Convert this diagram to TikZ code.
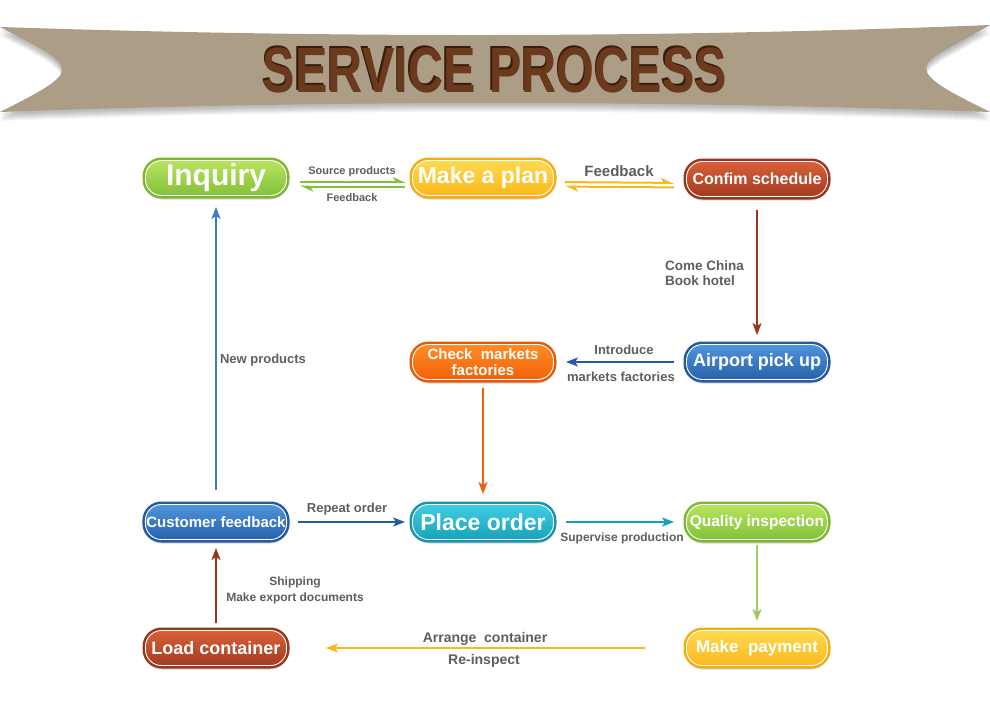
\documentclass[tikz,border=0pt]{standalone}
\usepackage{fontspec}
\setmainfont{Liberation Sans}
\usetikzlibrary{arrows.meta, shadows}

\definecolor{ribbon}{HTML}{AB9D86}
\definecolor{titlebrown}{HTML}{6B3A1C}
\definecolor{titledark}{HTML}{3A1C0A}
\definecolor{labelgray}{HTML}{5E5E5E}
\definecolor{greentop}{HTML}{B8E35E}
\definecolor{greenbot}{HTML}{84C13A}
\definecolor{greenedge}{HTML}{7DB733}
\definecolor{yellowtop}{HTML}{FFD94F}
\definecolor{yellowbot}{HTML}{FBB81C}
\definecolor{yellowedge}{HTML}{F2AE16}
\definecolor{redtop}{HTML}{D9603A}
\definecolor{redbot}{HTML}{A33B1F}
\definecolor{rededge}{HTML}{9A361C}
\definecolor{bluetop}{HTML}{4F94DB}
\definecolor{bluebot}{HTML}{2762AB}
\definecolor{blueedge}{HTML}{2559A0}
\definecolor{orangetop}{HTML}{FF8C22}
\definecolor{orangebot}{HTML}{F0620A}
\definecolor{orangeedge}{HTML}{E35C0A}
\definecolor{tealtop}{HTML}{40CDE2}
\definecolor{tealbot}{HTML}{17A2BA}
\definecolor{tealedge}{HTML}{1695AB}

\tikzset{
  proc/.style={rounded corners=16pt, minimum width=141pt, minimum height=35pt,
    inner sep=1pt, draw=white, line width=0.9pt, text=white, align=center,
    drop shadow={shadow xshift=0pt, shadow yshift=-4pt, opacity=0.3}},
  procgreen/.style={proc, top color=greentop, bottom color=greenbot, preaction={draw=greenedge, line width=6pt}},
  procyellow/.style={proc, top color=yellowtop, bottom color=yellowbot, preaction={draw=yellowedge, line width=6pt}},
  procred/.style={proc, top color=redtop, bottom color=redbot, preaction={draw=rededge, line width=6pt}},
  procblue/.style={proc, top color=bluetop, bottom color=bluebot, preaction={draw=blueedge, line width=6pt}},
  procorange/.style={proc, top color=orangetop, bottom color=orangebot, preaction={draw=orangeedge, line width=6pt}},
  procteal/.style={proc, top color=tealtop, bottom color=tealbot, preaction={draw=tealedge, line width=6pt}},
  lbl/.style={text=labelgray, inner sep=0pt, align=center},
  flow/.style={line width=2.2pt, -{Stealth[length=12pt, width=9pt, inset=3pt]}},
  halfflow/.style={line width=2pt, -{Stealth[harpoon, length=11pt, width=10pt, inset=3pt]}}
}

\begin{document}
\begin{tikzpicture}[x=1pt, y=-1pt]
  \fill[white] (0,0) rectangle (990,712);
  \useasboundingbox (0,0) rectangle (990,712);

  % title ribbon
  \foreach \dy in {2,3,...,9} {
    \fill[black, opacity=0.035, yshift=-\dy pt] (0,27) .. controls (330,38) and (660,38) .. (990,25)
      .. controls (950,48) and (926,58) .. (926,68) .. controls (926,80) and (950,92) .. (990,112)
      .. controls (660,100) and (330,100) .. (0,112)
      .. controls (40,92) and (62,80) .. (62,70) .. controls (62,58) and (40,48) .. (0,27) -- cycle;
  }
  \fill[ribbon] (0,27) .. controls (330,38) and (660,38) .. (990,25)
    .. controls (950,48) and (926,58) .. (926,68) .. controls (926,80) and (950,92) .. (990,112)
    .. controls (660,100) and (330,100) .. (0,112)
    .. controls (40,92) and (62,80) .. (62,70) .. controls (62,58) and (40,48) .. (0,27) -- cycle;
  \node[inner sep=0pt, text=titledark, font=\bfseries\fontsize{64}{64}\selectfont] (titleshade) at (493.5,68.5) {\scalebox{0.76}[1]{SERVICE PROCESS}};
  \node[inner sep=0pt, text=titlebrown, font=\bfseries\fontsize{64}{64}\selectfont] (title) at (495,70) {\scalebox{0.76}[1]{SERVICE PROCESS}};

  % steps
  \node[procgreen, font=\bfseries\fontsize{30}{30}\selectfont] (inq) at (216,178) {Inquiry};
  \node[procyellow, font=\bfseries\fontsize{23}{23}\selectfont] (plan) at (483,178) {Make a plan};
  \node[procred, font=\bfseries\fontsize{16}{16}\selectfont] (conf) at (757,179) {Confim schedule};
  \node[procblue, font=\bfseries\fontsize{18}{18}\selectfont] (air) at (757,362) {Airport pick up};
  \node[procorange, font=\bfseries\fontsize{15}{16}\selectfont] (chk) at (483,362) {Check\ \ markets\\factories};
  \node[procblue, font=\bfseries\fontsize{15}{15}\selectfont] (cust) at (216,522) {Customer feedback};
  \node[procteal, font=\bfseries\fontsize{23}{23}\selectfont] (place) at (483,522) {Place order};
  \node[procgreen, font=\bfseries\fontsize{15.5}{15.5}\selectfont] (qual) at (757,522) {Quality inspection};
  \node[procred, font=\bfseries\fontsize{18}{18}\selectfont] (load) at (216,648) {Load container};
  \node[procyellow, font=\bfseries\fontsize{17}{17}\selectfont] (pay) at (757,648) {Make\ \ payment};

  % connectors
  \draw[halfflow, draw=greenbot, shorten <=13pt, shorten >=6pt] ([yshift=-4pt]inq.east) -- ([yshift=-4pt]plan.west);
  \draw[halfflow, draw=greenbot, shorten <=7pt, shorten >=13pt] ([yshift=-8.5pt]plan.west) -- ([yshift=-8.5pt]inq.east);
  \draw[halfflow, draw=yellowbot, shorten <=11pt, shorten >=12pt] ([yshift=-4pt]plan.east) -- ([yshift=-4pt]conf.west);
  \draw[halfflow, draw=yellowbot, shorten <=12pt, shorten >=11pt] ([yshift=-8.5pt]conf.west) -- ([yshift=-8.5pt]plan.east);
  \draw[flow, draw=rededge, shorten <=13pt, shorten >=9pt] (conf) -- (air);
  \draw[flow, draw=blueedge, shorten <=12pt, shorten >=12pt] (air) -- (chk);
  \draw[flow, draw=orangebot, shorten <=8pt, shorten >=10pt] (chk) -- (place);
  \draw[flow, draw=blueedge, shorten <=11pt, shorten >=7pt] (cust) -- (place);
  \draw[flow, draw=tealbot, shorten <=12pt, shorten >=12pt] (place) -- (qual);
  \draw[flow, draw=greenbot!80!white, shorten <=5pt, shorten >=9pt] (qual) -- (pay);
  \draw[flow, draw=yellowbot, shorten <=41pt, shorten >=39pt] (pay) -- (load);
  \draw[flow, draw=rededge, shorten <=7pt, shorten >=8pt] (load) -- (cust);
  \draw[flow, draw=bluetop!60!blueedge, shorten <=14pt, shorten >=11pt] (cust) -- (inq);

  % labels
  \node[lbl, font=\bfseries\fontsize{11}{11}\selectfont] (srclbl) at (352,172) {Source products};
  \node[lbl, font=\bfseries\fontsize{11}{11}\selectfont] (fbsmall) at (352,198) {Feedback};
  \node[lbl, font=\bfseries\fontsize{15}{15}\selectfont] (fbbig) at (619,171) {Feedback};
  \node[lbl, anchor=west, align=left, font=\bfseries\fontsize{13.5}{15}\selectfont] (hotel) at (665,273) {Come China\\Book hotel};
  \node[lbl, font=\bfseries\fontsize{13}{13}\selectfont] (introlbl) at (624,350) {Introduce};
  \node[lbl, font=\bfseries\fontsize{13}{13}\selectfont] (mktlbl) at (621,377) {markets factories};
  \node[lbl, font=\bfseries\fontsize{13}{13}\selectfont] (newlbl) at (263,360) {New products};
  \node[lbl, font=\bfseries\fontsize{13}{13}\selectfont] (replbl) at (347,509) {Repeat order};
  \node[lbl, font=\bfseries\fontsize{12}{12}\selectfont] (suplbl) at (622,538) {Supervise production};
  \node[lbl, font=\bfseries\fontsize{12}{16}\selectfont] (shiplbl) at (295,590) {Shipping\\Make export documents};
  \node[lbl, font=\bfseries\fontsize{14}{14}\selectfont] (arrlbl) at (485,639) {Arrange\ \ container};
  \node[lbl, font=\bfseries\fontsize{14}{14}\selectfont] (relbl) at (484,661) {Re-inspect};
\end{tikzpicture}
\end{document}
